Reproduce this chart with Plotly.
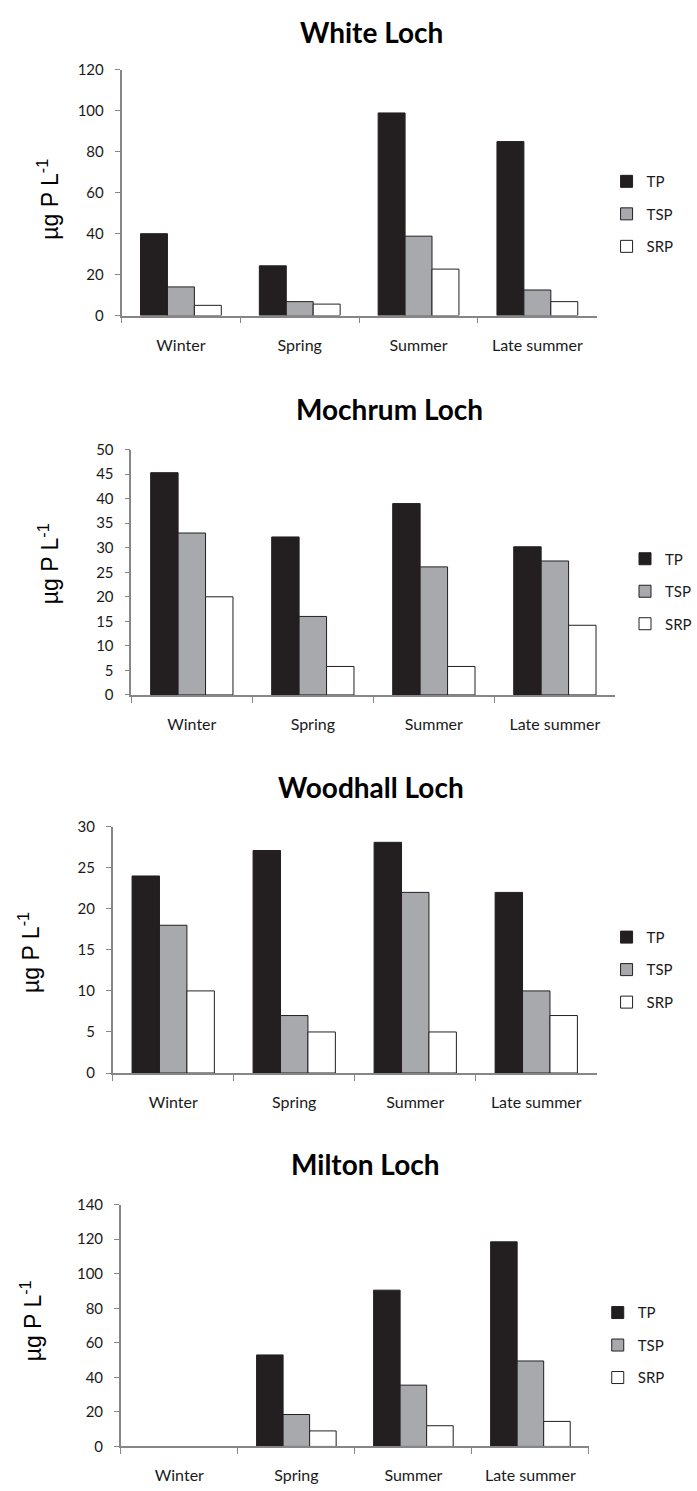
import plotly.graph_objects as go

# ---------------- data ----------------
seasons = ["Winter", "Spring", "Summer", "Late summer"]
series_names = ["TP", "TSP", "SRP"]

white_tp = [40, 24.3, 99, 85]
white_tsp = [14, 6.8, 38.8, 12.5]
white_srp = [5, 5.6, 22.7, 6.8]

mochrum_tp = [45.3, 32.2, 39, 30.2]
mochrum_tsp = [33, 16, 26.1, 27.3]
mochrum_srp = [20, 5.8, 5.8, 14.2]

woodhall_tp = [24, 27.1, 28.1, 22]
woodhall_tsp = [18, 7, 22, 10]
woodhall_srp = [10, 5, 5, 7]

milton_tp = [None, 53, 90.5, 118.5]
milton_tsp = [None, 18.5, 35.5, 49.5]
milton_srp = [None, 9, 12, 14.5]

titles = ["White Loch", "Mochrum Loch", "Woodhall Loch", "Milton Loch"]
y_max = [120, 50, 30, 140]
y_step = [20, 5, 5, 20]
y_label = "µg P L<sup>-1</sup>"

panel_values = [
    [white_tp, white_tsp, white_srp],
    [mochrum_tp, mochrum_tsp, mochrum_srp],
    [woodhall_tp, woodhall_tsp, woodhall_srp],
    [milton_tp, milton_tsp, milton_srp],
]

# ---------------- style / layout ----------------
W, H = 697, 1491
fill_colors = ["#231f20", "#a7a9ac", "#ffffff"]
axis_gray = "#868686"
TXT = "#1a1a1a"

# plot boxes in pixels: (x0, x1, ytop, ybottom)
boxes = [
    (124, 609, 60.7, 309.3),
    (134, 628, 445, 693.3),
    (115, 609, 826.7, 1076),
    (123.3, 601, 1209.3, 1454),
]
title_pos = [(379, 22), (397, 404), (379, 787), (373, 1168)]
ylabel_pos = [(49, 192), (50, 560), (30, 954), (32, 1327)]
# (left edge of legend, centre of first legend row)
legend_pos = [(619, 173), (638, 555), (619, 938), (610, 1318)]


def px_x(v):
    return v / W


def px_y(v):
    return 1 - v / H


fig = go.Figure()
annotations = []

for i in range(4):
    suffix = "" if i == 0 else str(i + 1)
    leg = "legend" if i == 0 else f"legend{i + 1}"
    for s, name in enumerate(series_names):
        fig.add_trace(go.Bar(
            x=seasons,
            y=panel_values[i][s],
            name=name,
            xaxis="x" + suffix,
            yaxis="y" + suffix,
            legend=leg,
            legendgroup=f"p{i}-{name}",
            marker=dict(color=fill_colors[s], line=dict(color="#231f20", width=1)),
        ))

    x0, x1, yt, yb = boxes[i]
    fig.update_layout(**{
        "xaxis" + suffix: dict(
            domain=[px_x(x0), px_x(x1)],
            anchor="y" + suffix,
            type="category",
            categoryorder="array",
            categoryarray=seasons,
            range=[-0.5, 3.5],
            showline=True, linecolor=axis_gray, linewidth=1.5,
            ticks="outside", tickson="boundaries", ticklen=6, tickcolor=axis_gray,
            tickwidth=1,
            showgrid=False, zeroline=False,
            tickfont=dict(family="Lato", size=16, color=TXT),
            ticklabelstandoff=14,
            fixedrange=True,
        ),
        "yaxis" + suffix: dict(
            domain=[px_y(yb), px_y(yt)],
            anchor="x" + suffix,
            range=[0, y_max[i]],
            tick0=0, dtick=y_step[i],
            showline=True, linecolor=axis_gray, linewidth=1.5,
            ticks="outside", ticklen=5, tickcolor=axis_gray, tickwidth=1,
            showgrid=False, zeroline=False,
            tickfont=dict(family="Lato", size=15, color=TXT),
            ticklabelstandoff=8,
            fixedrange=True,
        ),
        leg: dict(
            x=px_x(legend_pos[i][0]), xanchor="left",
            y=px_y(legend_pos[i][1] - 16), yanchor="top",
            font=dict(family="Lato", size=15, color=TXT),
            bgcolor="rgba(0,0,0,0)",
            tracegroupgap=10,
            itemwidth=30,
        ),
    })

    tx, ty = title_pos[i]
    annotations.append(dict(
        text=titles[i], x=px_x(tx), y=px_y(ty),
        xref="paper", yref="paper", xanchor="center", yanchor="middle",
        showarrow=False,
        font=dict(family="Lato", size=28, color="#000000", weight="bold"),
    ))
    lx, ly = ylabel_pos[i]
    annotations.append(dict(
        text=y_label, x=px_x(lx), y=px_y(ly),
        xref="paper", yref="paper", xanchor="center", yanchor="middle",
        textangle=-90, showarrow=False,
        font=dict(family="Liberation Sans", size=23, color="#000000"),
    ))

fig.update_layout(
    width=W, height=H,
    margin=dict(l=0, r=0, t=0, b=0),
    paper_bgcolor="white", plot_bgcolor="white",
    barmode="group", bargap=0.32, bargroupgap=0,
    annotations=annotations,
    showlegend=True,
)

fig.write_html("out.html")
